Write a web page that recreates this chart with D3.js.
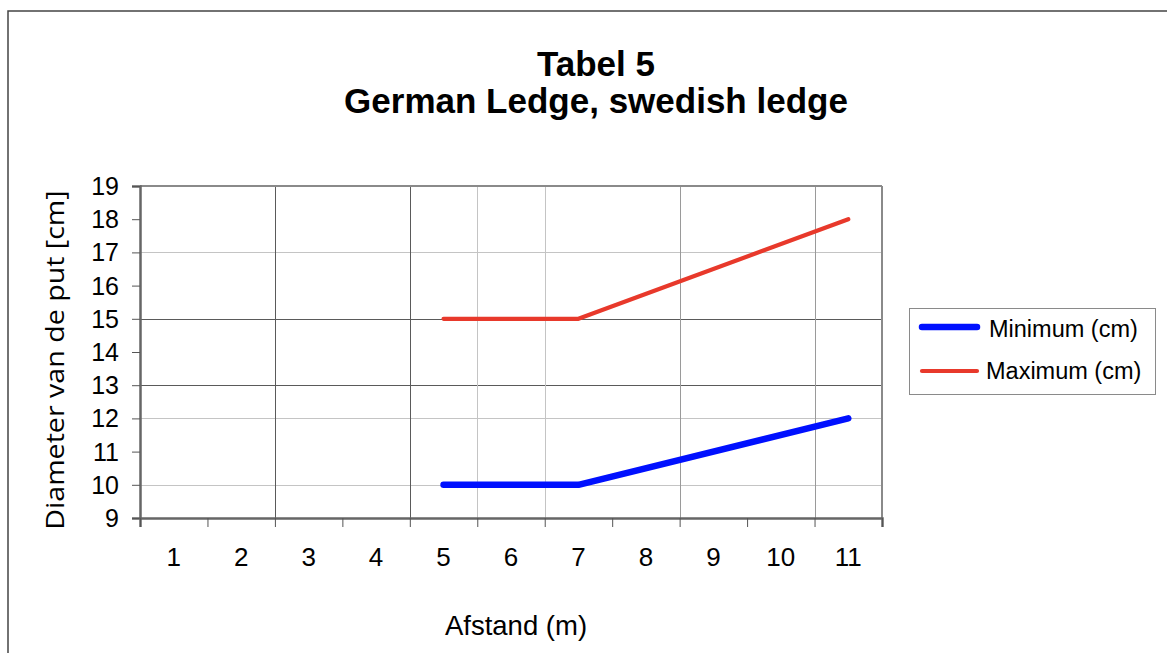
<!DOCTYPE html>
<html>
<head>
<meta charset="utf-8">
<script src="https://cdn.jsdelivr.net/npm/d3@7"></script>
<style>
  html, body { margin: 0; padding: 0; background: #fff; }
  svg { display: block; }
</style>
</head>
<body>
<svg id="chart" width="1167" height="653"></svg>
<script>
// ---- data ----
const categories = ["1", "2", "3", "4", "5", "6", "7", "8", "9", "10", "11"];
const minimumValues = [null, null, null, null, 10, null, 10, null, null, null, 12];
const maximumValues = [null, null, null, null, 15, null, 15, null, null, null, 18];
const seriesNames = ["Minimum (cm)", "Maximum (cm)"];
const yTickValues = [9, 10, 11, 12, 13, 14, 15, 16, 17, 18, 19];
const yGridDark = [15, 13];
const yGridLight = [17, 12, 10];
const xGridDark = [2, 4];      // category boundaries
const xGridLight = [5, 6];
const xGridMedium = [8, 10];
const titleLines = ["Tabel 5", "German Ledge, swedish ledge"];
const xTitle = "Afstand (m)";
const yTitle = "Diameter van de put [cm]";

// ---- layout ----
const ARIAL = "'Liberation Sans', Arial, Helvetica, sans-serif";
const plot = { left: 140, right: 882, top: 186, bottom: 518 };
const svg = d3.select("#chart").style("font-family", ARIAL);

// outer chart border (extends past viewport right/bottom)
svg.append("rect").attr("x", 8).attr("y", 11).attr("width", 1300).attr("height", 800)
  .attr("fill", "none").attr("stroke", "#444").attr("stroke-width", 1.5);

const x = d3.scaleBand().domain(categories).range([plot.left, plot.right]).paddingInner(0).paddingOuter(0);
const xb = d3.scaleLinear().domain([0, categories.length]).range([plot.left, plot.right]);
const y = d3.scaleLinear().domain([9, 19]).range([plot.bottom, plot.top]);

// gridlines
const g = svg.append("g");
function hGrid(vals, color) {
  g.selectAll(null).data(vals).enter().append("line")
    .attr("x1", plot.left).attr("x2", plot.right)
    .attr("y1", d => Math.round(y(d)) + 0.5).attr("y2", d => Math.round(y(d)) + 0.5)
    .attr("stroke", color).attr("stroke-width", 1);
}
function vGrid(vals, color) {
  g.selectAll(null).data(vals).enter().append("line")
    .attr("y1", plot.top).attr("y2", plot.bottom)
    .attr("x1", d => Math.round(xb(d)) + 0.5).attr("x2", d => Math.round(xb(d)) + 0.5)
    .attr("stroke", color).attr("stroke-width", 1);
}
hGrid(yGridLight, "#c4c4c4");
hGrid(yGridDark, "#5a5a5a");
vGrid(xGridLight, "#c4c4c4");
vGrid(xGridMedium, "#9a9a9a");
vGrid(xGridDark, "#5a5a5a");

// plot frame (top/right)
svg.append("line").attr("x1", plot.left).attr("x2", plot.right).attr("y1", plot.top).attr("y2", plot.top)
  .attr("stroke", "#8a8a8a").attr("stroke-width", 2);
svg.append("line").attr("x1", plot.right).attr("x2", plot.right).attr("y1", plot.top).attr("y2", plot.bottom)
  .attr("stroke", "#8a8a8a").attr("stroke-width", 2);

// y axis
const yAxis = svg.append("g").attr("transform", `translate(${plot.left},0)`)
  .call(d3.axisLeft(y).tickValues(yTickValues).tickSize(8).tickPadding(13).tickFormat(d3.format("d")));
yAxis.select(".domain").attr("stroke", "#666").attr("stroke-width", 2.5);
yAxis.selectAll(".tick line").attr("stroke", "#555").attr("stroke-width", 1);
yAxis.selectAll(".tick text").style("font-size", "25px").style("font-family", ARIAL)
  .attr("fill", "#000").attr("dy", "0.34em");

// x axis: boundary ticks
const xAxis = svg.append("g").attr("transform", `translate(0,${plot.bottom})`)
  .call(d3.axisBottom(xb).tickValues(d3.range(categories.length + 1)).tickSize(9).tickFormat(""));
xAxis.select(".domain").attr("stroke", "#666").attr("stroke-width", 2.5);
xAxis.selectAll(".tick line").attr("stroke", "#555").attr("stroke-width", 1);
// x labels at category centers
svg.append("g").selectAll("text").data(categories).enter().append("text")
  .attr("x", d => x(d) + x.bandwidth() / 2).attr("y", 566)
  .attr("text-anchor", "middle").style("font-size", "26px").style("font-family", ARIAL).text(d => d);

// lines
const line = d3.line()
  .x(d => x(d.c) + x.bandwidth() / 2)
  .y(d => y(d.v));
function series(vals) {
  return categories.map((c, i) => ({ c: c, v: vals[i] })).filter(d => d.v !== null);
}
svg.append("path").datum(series(maximumValues)).attr("d", line)
  .attr("fill", "none").attr("stroke", "#e8392b").attr("stroke-width", 4.2)
  .attr("stroke-linecap", "round").attr("stroke-linejoin", "round");
svg.append("path").datum(series(minimumValues)).attr("d", line)
  .attr("fill", "none").attr("stroke", "#0010ff").attr("stroke-width", 6.5)
  .attr("stroke-linecap", "round").attr("stroke-linejoin", "round");

// titles
svg.append("text").attr("x", 596).attr("y", 76).attr("text-anchor", "middle")
  .style("font-size", "35px").style("font-weight", "bold").text(titleLines[0]);
svg.append("text").attr("x", 596).attr("y", 113).attr("text-anchor", "middle")
  .style("font-size", "35px").style("font-weight", "bold").text(titleLines[1]);

svg.append("text").attr("x", 516).attr("y", 635).attr("text-anchor", "middle")
  .style("font-size", "27.5px").text(xTitle);

svg.append("text").attr("transform", "translate(64,360) rotate(-90) scale(1.1,1)")
  .attr("text-anchor", "middle").style("font-size", "26px")
  .style("font-family", "'Open Sans', 'Noto Sans', sans-serif").text(yTitle);

// legend
const leg = svg.append("g");
leg.append("rect").attr("x", 909.5).attr("y", 308.5).attr("width", 246).attr("height", 86)
  .attr("fill", "#fff").attr("stroke", "#8a8a8a").attr("stroke-width", 1);
const legendItems = [
  { name: seriesNames[0], color: "#0010ff", w: 6.5, ly: 327, ty: 337, tx: 989 },
  { name: seriesNames[1], color: "#e8392b", w: 4.2, ly: 371, ty: 379, tx: 986 }
];
legendItems.forEach(it => {
  leg.append("line").attr("x1", 922).attr("x2", 977).attr("y1", it.ly).attr("y2", it.ly)
    .attr("stroke", it.color).attr("stroke-width", it.w).attr("stroke-linecap", "round");
  leg.append("text").attr("x", it.tx).attr("y", it.ty).style("font-size", "23.5px").text(it.name);
});
</script>
</body>
</html>
